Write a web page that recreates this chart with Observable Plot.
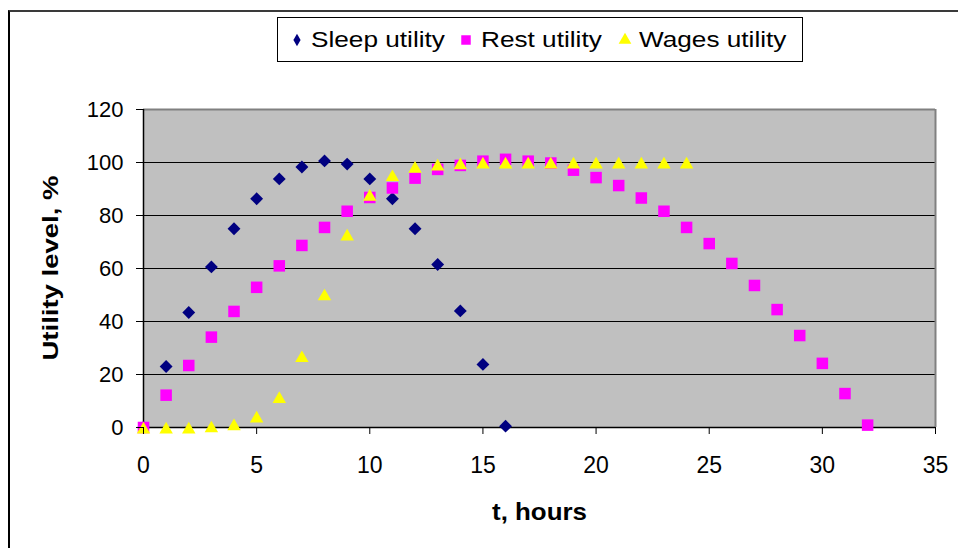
<!DOCTYPE html>
<html>
<head>
<meta charset="utf-8">
<script src="https://cdn.jsdelivr.net/npm/d3@7"></script>
<script src="https://cdn.jsdelivr.net/npm/@observablehq/plot@0.6"></script>
<style>
  html, body { margin: 0; padding: 0; background: #fff; }
  #wrap { position: relative; width: 958px; height: 548px; overflow: hidden; font-family: "Liberation Sans", Arial, sans-serif; }
  #border { position: absolute; left: 8px; top: 10px; width: 1200px; height: 1000px; border-top: 2px solid #3a3a3a; border-left: 2px solid #000; }
  #chart { position: absolute; left: 0; top: 0; }
  #legend { position: absolute; left: 277px; top: 17px; width: 526px; height: 45px; box-sizing: border-box; border: 1px solid #000; background: #fff; }
  #legend .mk { position: absolute; }
  #legend .lb { position: absolute; top: 50%; font-size: 22px; color: #000; white-space: nowrap; transform-origin: left center; transform: translateY(-50%) scaleX(1.19); line-height: 1; }
</style>
</head>
<body>
<div id="wrap">
  <div id="border"></div>
  <div id="chart"></div>
  <div id="legend"></div>
</div>
<script>
// ---- data ----
const sleepHours = [0,1,2,3,4,5,6,7,8,9,10,11,12,13,14,15,16];
const sleepUtility = [0,23,43.4,60.6,75,86.3,93.8,98.3,100.6,99.4,93.8,86.3,75,61.5,44,23.8,0.5];

const restHours = [0,1,2,3,4,5,6,7,8,9,10,11,12,13,14,15,16,17,18,19,20,21,22,23,24,25,26,27,28,29,30,31,32];
const restUtility = [0,12.2,23.4,34.1,43.8,52.9,61,68.7,75.5,81.6,86.8,90.4,94.1,97.4,98.9,100.5,101.2,100.5,99.8,97.1,94.3,91.3,86.6,81.6,75.5,69.4,61.9,53.6,44.5,34.7,24.2,12.8,0.9];

const wagesHours = [0,1,2,3,4,5,6,7,8,9,10,11,12,13,14,15,16,17,18,19,20,21,22,23,24];
const wagesUtility = [0,0,0,0.4,1.2,4.1,11.5,26.9,50.2,72.8,87.8,95.2,98.4,99.2,99.7,100,100,100,100,100,100,100,100,100,100];

const xTicks = [0,5,10,15,20,25,30,35];
const yTicks = [0,20,40,60,80,100,120];
const gridValues = [20,40,60,80,100];

const seriesNames = ["Sleep utility","Rest utility","Wages utility"];
const seriesColors = ["#000080","#FF00FF","#FFFF00"];

const xTitle = "t, hours";
const yTitle = "Utility level, %";

const toRows = (hours, vals) => hours.map((t, i) => ({t, v: vals[i]}));
const sleepRows = toRows(sleepHours, sleepUtility);
const restRows = toRows(restHours, restUtility);
const wagesRows = toRows(wagesHours, wagesUtility);

const chart = Plot.plot({
  width: 958,
  height: 548,
  marginLeft: 143,
  marginRight: 23,
  marginTop: 109,
  marginBottom: 121,
  style: { fontFamily: "'Liberation Sans', Arial, sans-serif", background: "transparent", color: "#000" },
  x: { domain: [0, 35] },
  y: { domain: [0, 120] },
  marks: [
    Plot.frame({ fill: "#c0c0c0", stroke: "none" }),
    Plot.ruleY(gridValues, { stroke: "#000", strokeWidth: 1.2 }),
    Plot.ruleY([120], { stroke: "#808080", strokeWidth: 2 }),
    Plot.ruleX([35], { stroke: "#808080", strokeWidth: 2 }),
    Plot.ruleY([0], { stroke: "#000", strokeWidth: 1.5 }),
    Plot.ruleX([0], { stroke: "#000", strokeWidth: 1.5 }),
    Plot.dot(sleepRows, { x: "t", y: "v", symbol: "diamond2", r: 5.8, fill: seriesColors[0], stroke: "none" }),
    Plot.dot(restRows, { x: "t", y: "v", symbol: "square", r: 6.5, fill: seriesColors[1], stroke: "none" }),
    Plot.dot(wagesRows, { x: "t", y: "v", symbol: "triangle", r: 5.0, dy: 2, fill: seriesColors[2], stroke: "none" }),
    Plot.axisX({ ticks: xTicks, tickSize: 7, tickPadding: 22, fontSize: 23, label: null, stroke: "#000" }),
    Plot.axisY({ ticks: yTicks, tickSize: 7, tickPadding: 13, fontSize: 22, label: null, stroke: "#000" }),
    Plot.text([yTitle], { frameAnchor: "left", rotate: -90, textAnchor: "start", dx: -93, dy: 92, fontWeight: "bold", fontSize: 22, fill: "#000" }),
    Plot.text([xTitle], { frameAnchor: "bottom", dy: 92, fontWeight: "bold", fontSize: 24, fill: "#000" })
  ]
});
document.getElementById("chart").appendChild(chart);

// stretch the titles horizontally like the original
d3.select(chart).selectAll("text").each(function() {
  const s = this.textContent;
  if (s === yTitle) { this.setAttribute("textLength", 185); this.setAttribute("lengthAdjust", "spacingAndGlyphs"); }
  if (s === xTitle) { this.setAttribute("textLength", 95); this.setAttribute("lengthAdjust", "spacingAndGlyphs"); }
});

// legend
const legend = d3.select("#legend");
const legendItems = [
  { name: seriesNames[0], color: seriesColors[0], symbol: d3.symbolDiamond, size: 45, mx: 19, tx: 33 },
  { name: seriesNames[1], color: seriesColors[1], symbol: d3.symbolSquare, size: 90, mx: 188, tx: 203 },
  { name: seriesNames[2], color: seriesColors[2], symbol: d3.symbolTriangle, size: 70, mx: 347, tx: 361 }
];
for (const it of legendItems) {
  const svg = legend.append("svg").attr("class", "mk")
    .attr("width", 16).attr("height", 16)
    .style("left", (it.mx - 8) + "px").style("top", (22 - 8) + "px");
  svg.append("path").attr("transform", "translate(8,8)")
    .attr("d", d3.symbol(it.symbol, it.size)()).attr("fill", it.color);
  legend.append("span").attr("class", "lb").style("left", it.tx + "px").text(it.name);
}
</script>
</body>
</html>
